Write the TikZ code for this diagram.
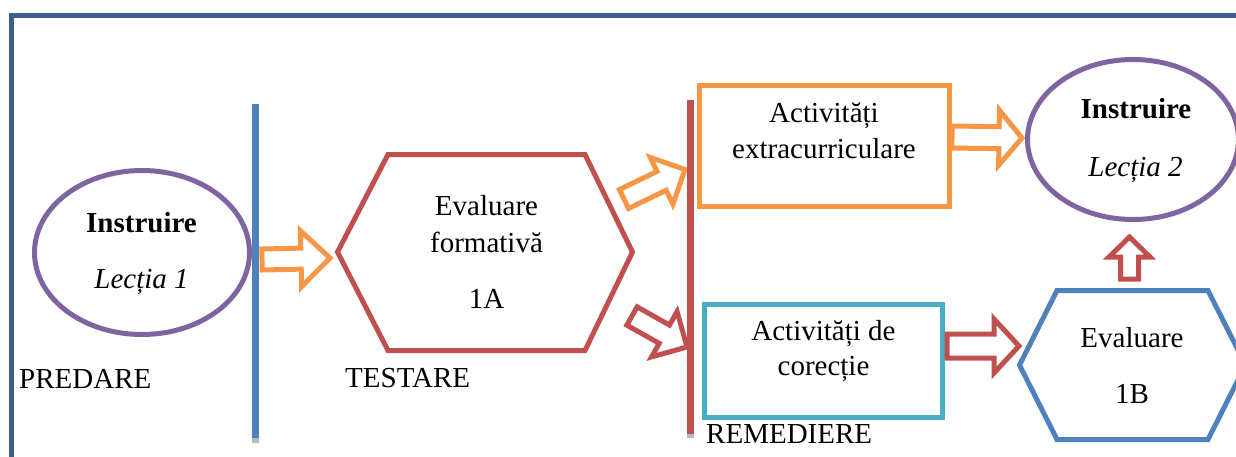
\documentclass[tikz,border=0pt]{standalone}
\usepackage{fontspec}
\setmainfont{Liberation Serif}
\usetikzlibrary{calc,shapes.geometric}
\definecolor{cpurple}{HTML}{8064A2}
\definecolor{cblue}{HTML}{4F81BD}
\definecolor{cred}{HTML}{C0504D}
\definecolor{corange}{HTML}{F79646}
\definecolor{ccyan}{HTML}{4BACC6}
\definecolor{cframe}{HTML}{3C5F8C}
\tikzset{
  txt/.style={anchor=base, inner sep=0pt, font=\fontsize{29}{35}\selectfont},
  oval/.style={ellipse, draw=cpurple, line width=5pt, inner sep=0pt},
  box/.style={rectangle, line width=5pt, inner sep=0pt},
  hexa/.style={line width=5pt, line join=miter},
  barrow/.style={line width=5pt, line join=miter, fill=white},
  sepline/.style={line width=7.7pt},
}
% #1 style, #2 from, #3 to, #4 shaft half width, #5 head half width, #6 head length
\newcommand{\blockarrow}[6]{%
  \coordinate (hb) at ($(#3)!#6!(#2)$);
  \draw[#1] ($(#2)!#4!90:(#3)$) -- ($(hb)!#4!90:(#3)$) -- ($(hb)!#5!90:(#3)$)
    -- (#3) -- ($(hb)!#5!-90:(#3)$) -- ($(hb)!#4!-90:(#3)$) -- ($(#2)!#4!-90:(#3)$) -- cycle;
}
\begin{document}
\begin{tikzpicture}[x=1pt,y=-1pt]
\useasboundingbox (0,0) rectangle (1236,456);
\clip (0,0) rectangle (1236,456);
% frame
\draw[cframe, line width=5pt] (11.5,460) -- (11.5,15.5) -- (1240,15.5);

% ellipses
\node[oval, minimum width=215pt, minimum height=164pt] (e1) at (142,252.5) {};
\node[oval, minimum width=211pt, minimum height=160pt] (e2) at (1133,139.5) {};

% rectangles
\node[box, draw=corange, minimum width=250pt, minimum height=121pt] (rx) at (824.5,146) {};
\node[box, draw=ccyan, minimum width=238pt, minimum height=113pt] (rc) at (823.5,361) {};

% hexagon 1A
\coordinate (h1l) at (337.5,252);
\coordinate (h1tl) at (388,154.5);
\coordinate (h1tr) at (585,154.5);
\coordinate (h1r) at (632.5,252);
\coordinate (h1br) at (585,350.5);
\coordinate (h1bl) at (388,350.5);
\draw[hexa, cred] (h1l) -- (h1tl) -- (h1tr) -- (h1r) -- (h1br) -- (h1bl) -- cycle;

% hexagon 1B
\coordinate (h2l) at (1019.5,365);
\coordinate (h2tl) at (1057,290.5);
\coordinate (h2tr) at (1208,290.5);
\coordinate (h2r) at (1245.5,365);
\coordinate (h2br) at (1208,439.5);
\coordinate (h2bl) at (1057,439.5);
\draw[hexa, cblue] (h2l) -- (h2tl) -- (h2tr) -- (h2r) -- (h2br) -- (h2bl) -- cycle;

% block arrows
\coordinate (a1s) at (262,259.5);
\coordinate (a1e) at (330,258);
\blockarrow{barrow, draw=corange}{a1s}{a1e}{10.5pt}{28pt}{29pt}
\coordinate (a2s) at (624,199);
\coordinate (a2e) at (685,169.5);
\blockarrow{barrow, draw=corange}{a2s}{a2e}{10.5pt}{26pt}{26pt}
\coordinate (a3s) at (632,316);
\coordinate (a3e) at (687,347);
\blockarrow{barrow, draw=cred}{a3s}{a3e}{10.5pt}{26pt}{26pt}
\coordinate (a4s) at (952,137);
\coordinate (a4e) at (1022,138);
\blockarrow{barrow, draw=corange}{a4s}{a4e}{11pt}{27.5pt}{23pt}
\coordinate (a5s) at (947,346);
\coordinate (a5e) at (1019,346);
\blockarrow{barrow, draw=cred}{a5s}{a5e}{12pt}{27pt}{25pt}
\coordinate (a6s) at (1129.5,279);
\coordinate (a6e) at (1129.5,237);
\blockarrow{barrow, draw=cred}{a6s}{a6e}{9pt}{20.5pt}{20pt}

% separator lines
\fill[gray!55] (251.7,438) rectangle (259.4,443);
\draw[sepline, cblue] (255.5,104) -- (255.5,438);
\fill[gray!55] (686.7,434) rectangle (694.4,438);
\draw[sepline, cred] (690.5,100) -- (690.5,434);

% texts
\node[txt, font=\fontsize{29}{35}\selectfont\bfseries] (t1) at (141.5,232) {Instruire};
\node[txt, font=\fontsize{29}{35}\selectfont\itshape] (t2) at (141.5,288) {Lecția 1};
\node[txt, anchor=base west] (t3) at (19,388) {PREDARE};
\node[txt] (t4) at (486.5,215) {Evaluare};
\node[txt] (t5) at (486.5,252) {formativă};
\node[txt] (t6) at (486.5,308.5) {1A};
\node[txt, anchor=base west] (t7) at (345,387) {TESTARE};
\node[txt] (t8) at (824,122) {Activități};
\node[txt] (t9) at (824,158.5) {extracurriculare};
\node[txt] (t10) at (823.5,340) {Activități de};
\node[txt] (t11) at (823.5,375) {corecție};
\node[txt, anchor=base west] (t12) at (706,443.5) {REMEDIERE};
\node[txt, font=\fontsize{29}{35}\selectfont\bfseries] (t13) at (1136,118.5) {Instruire};
\node[txt, font=\fontsize{29}{35}\selectfont\itshape] (t14) at (1135.5,176.5) {Lecția 2};
\node[txt] (t15) at (1132,347) {Evaluare};
\node[txt] (t16) at (1132,403) {1B};
\end{tikzpicture}
\end{document}
